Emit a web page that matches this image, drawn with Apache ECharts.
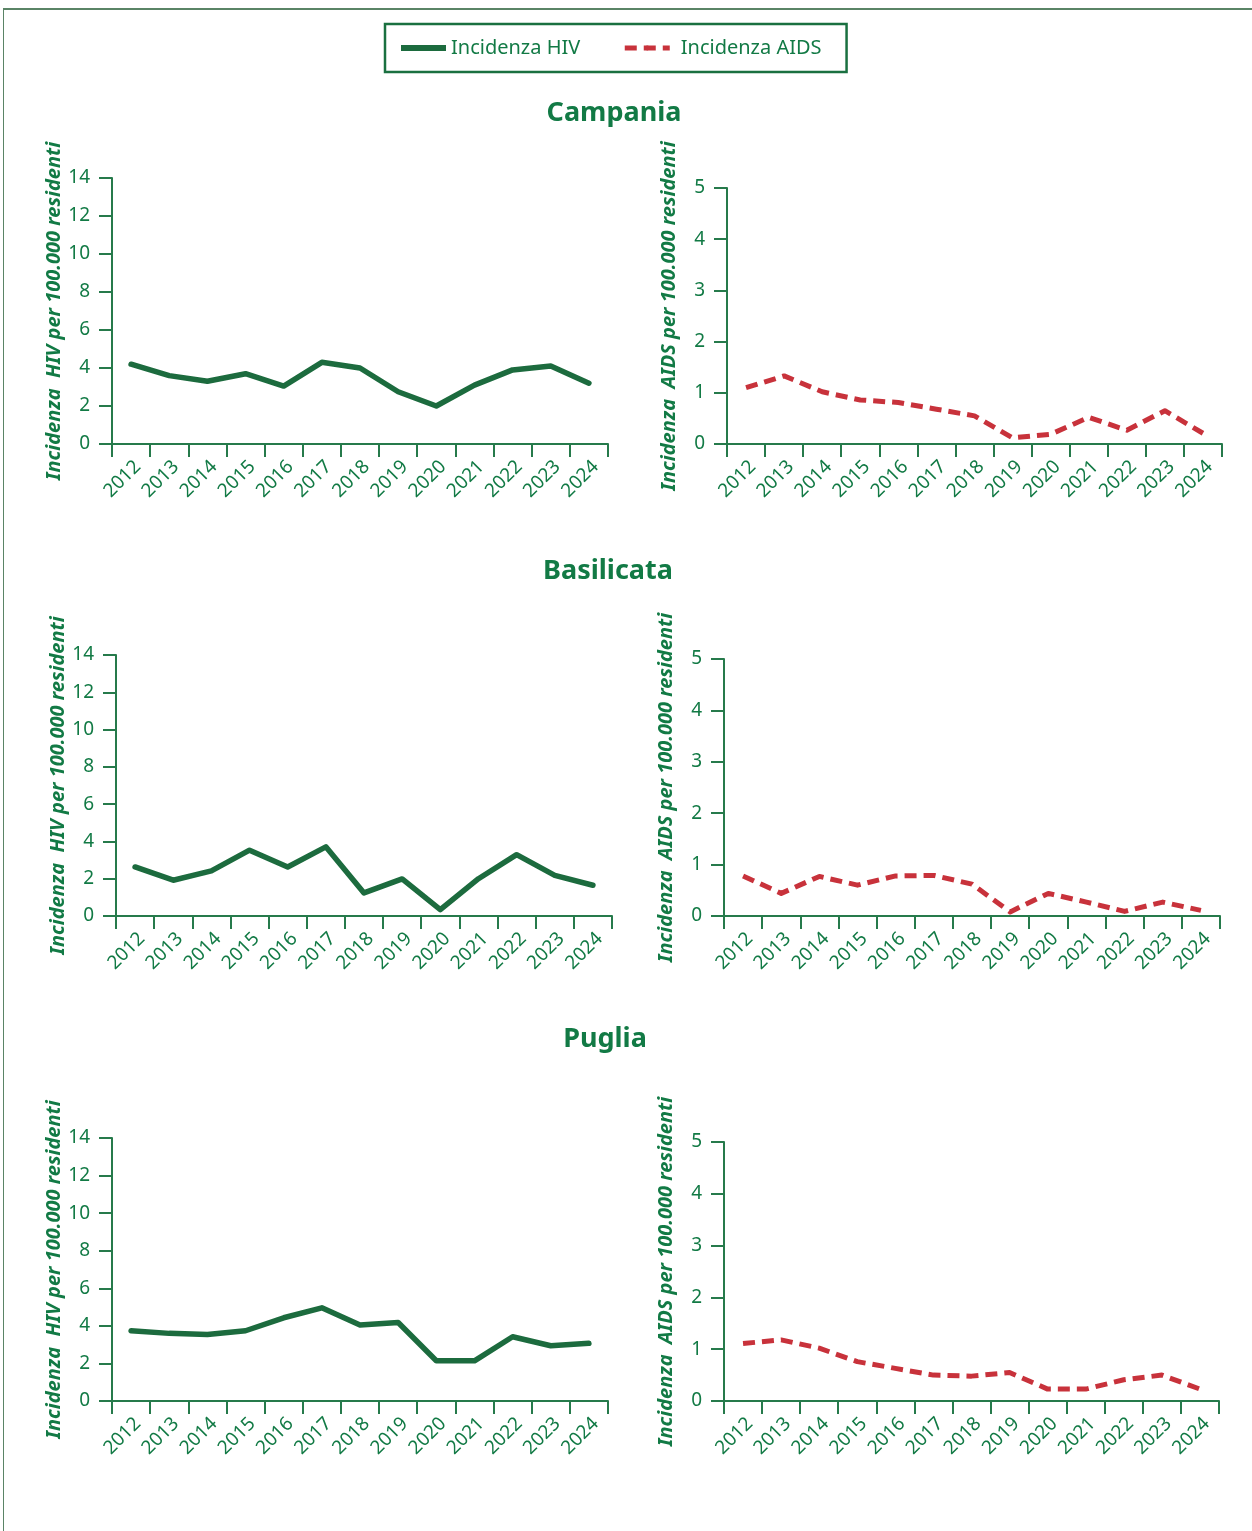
<!DOCTYPE html>
<html>
<head>
<meta charset="utf-8">
<script src="https://cdn.jsdelivr.net/npm/echarts@6/dist/echarts.min.js"></script>
<style>
html,body{margin:0;padding:0;background:#fff;}
#chart{width:1252px;height:1531px;position:absolute;left:0;top:0;}
#frame{position:absolute;left:3px;top:8px;width:1249px;height:1523px;border-top:2px solid #5a8466;border-left:1.5px solid #5a8466;pointer-events:none;}
</style>
</head>
<body>
<div id="chart"></div>
<div id="frame"></div>
<script>
const years = ['2012','2013','2014','2015','2016','2017','2018','2019','2020','2021','2022','2023','2024'];
const regions = ['Campania','Basilicata','Puglia'];
const hivTicks = {min:0, max:14, interval:2};
const aidsTicks = {min:0, max:5, interval:1};

const campaniaHIV   = [4.2, 3.6, 3.3, 3.7, 3.05, 4.3, 4.0, 2.75, 2.0, 3.1, 3.9, 4.1, 3.2];
const campaniaAIDS  = [1.1, 1.33, 1.02, 0.86, 0.81, 0.68, 0.55, 0.12, 0.19, 0.52, 0.27, 0.65, 0.21];
const basilicataHIV = [2.63, 1.92, 2.42, 3.53, 2.63, 3.71, 1.24, 1.99, 0.34, 2.0, 3.29, 2.18, 1.65];
const basilicataAIDS= [0.78, 0.44, 0.77, 0.6, 0.78, 0.79, 0.62, 0.08, 0.44, 0.27, 0.09, 0.27, 0.11];
const pugliaHIV     = [3.74, 3.6, 3.54, 3.74, 4.43, 4.96, 4.04, 4.18, 2.14, 2.14, 3.42, 2.94, 3.07];
const pugliaAIDS    = [1.11, 1.18, 1.02, 0.76, 0.63, 0.5, 0.48, 0.55, 0.23, 0.23, 0.41, 0.5, 0.23];

const hivName = 'Incidenza HIV';
const aidsName = 'Incidenza AIDS';
const hivAxisName = 'Incidenza  HIV per 100.000 residenti';
const aidsAxisName = 'Incidenza  AIDS per 100.000 residenti';

const TXT = '#127a45';
const AX = '#267a4b';
const GREEN = '#1c6b3e';
const RED = '#c8323b';
const FONT = '"Noto Sans", "Open Sans", sans-serif';

const grids = [
  {left:112, width:496, top:178, height:266},
  {left:727, width:495, top:188, height:256},
  {left:116, width:496, top:655, height:261},
  {left:724, width:496, top:659, height:257},
  {left:112, width:496, top:1138, height:263},
  {left:724, width:495, top:1142, height:259}
];
const titlePos = [{x:609,y:95},{x:603,y:553},{x:600,y:1021}];

const panelData = [
  [campaniaHIV, campaniaAIDS],
  [basilicataHIV, basilicataAIDS],
  [pugliaHIV, pugliaAIDS]
];

const xAxes = [], yAxes = [], series = [];
grids.forEach((g, i) => {
  const isHIV = i % 2 === 0;
  xAxes.push({
    gridIndex: i, type: 'category', data: years, boundaryGap: true,
    axisLine: {show: true, lineStyle: {color: AX, width: 2}},
    axisTick: {show: true, length: 13, lineStyle: {color: AX, width: 2}, interval: 0},
    axisLabel: {interval: 0, rotate: 45, color: TXT, fontSize: 19, fontFamily: FONT, margin: 13, verticalAlign: 'top'}
  });
  const t = isHIV ? hivTicks : aidsTicks;
  yAxes.push({
    gridIndex: i, type: 'value', min: t.min, max: t.max, interval: t.interval,
    name: isHIV ? hivAxisName : aidsAxisName,
    nameLocation: 'middle', nameGap: 48,
    nameTextStyle: {color: TXT, fontSize: 20, fontWeight: 'bold', fontStyle: 'italic', fontFamily: FONT},
    axisLine: {show: true, lineStyle: {color: AX, width: 2}},
    axisTick: {show: true, length: 13, lineStyle: {color: AX, width: 2}},
    splitLine: {show: false},
    axisLabel: {color: TXT, fontSize: 19, fontFamily: FONT, margin: 22}
  });
  const p = Math.floor(i / 2);
  series.push({
    name: isHIV ? hivName : aidsName,
    type: 'line', xAxisIndex: i, yAxisIndex: i,
    data: panelData[p][isHIV ? 0 : 1],
    symbol: 'none', smooth: false,
    lineStyle: isHIV
      ? {color: GREEN, width: 5.5, join: 'round', cap: 'round'}
      : {color: RED, width: 5, type: [12, 7], join: 'round', cap: 'butt'},
    itemStyle: {color: isHIV ? GREEN : RED}
  });
});

const chart = echarts.init(document.getElementById('chart'), null, {renderer: 'canvas'});
chart.setOption({
  animation: false,
  backgroundColor: 'transparent',
  title: regions.map((r, k) => ({
    text: r, left: titlePos[k].x, top: titlePos[k].y, textAlign: 'center',
    textStyle: {color: TXT, fontSize: 27, fontWeight: 'bold', fontFamily: FONT}
  })),
  legend: {
    left: 385, top: 24,
    padding: [14, 25, 14, 16],
    borderColor: '#1a7040', borderWidth: 2.5,
    itemGap: 42, itemWidth: 45, itemHeight: 6,
    textStyle: {color: TXT, fontSize: 20, fontFamily: FONT},
    data: [
      {name: hivName, icon: 'rect', itemStyle: {color: GREEN}},
      {name: aidsName, textStyle: {padding: [0, 0, 0, 6]}}
    ],
    lineStyle: {width: 5}
  },
  grid: grids,
  xAxis: xAxes,
  yAxis: yAxes,
  series: series
});
</script>
</body>
</html>
